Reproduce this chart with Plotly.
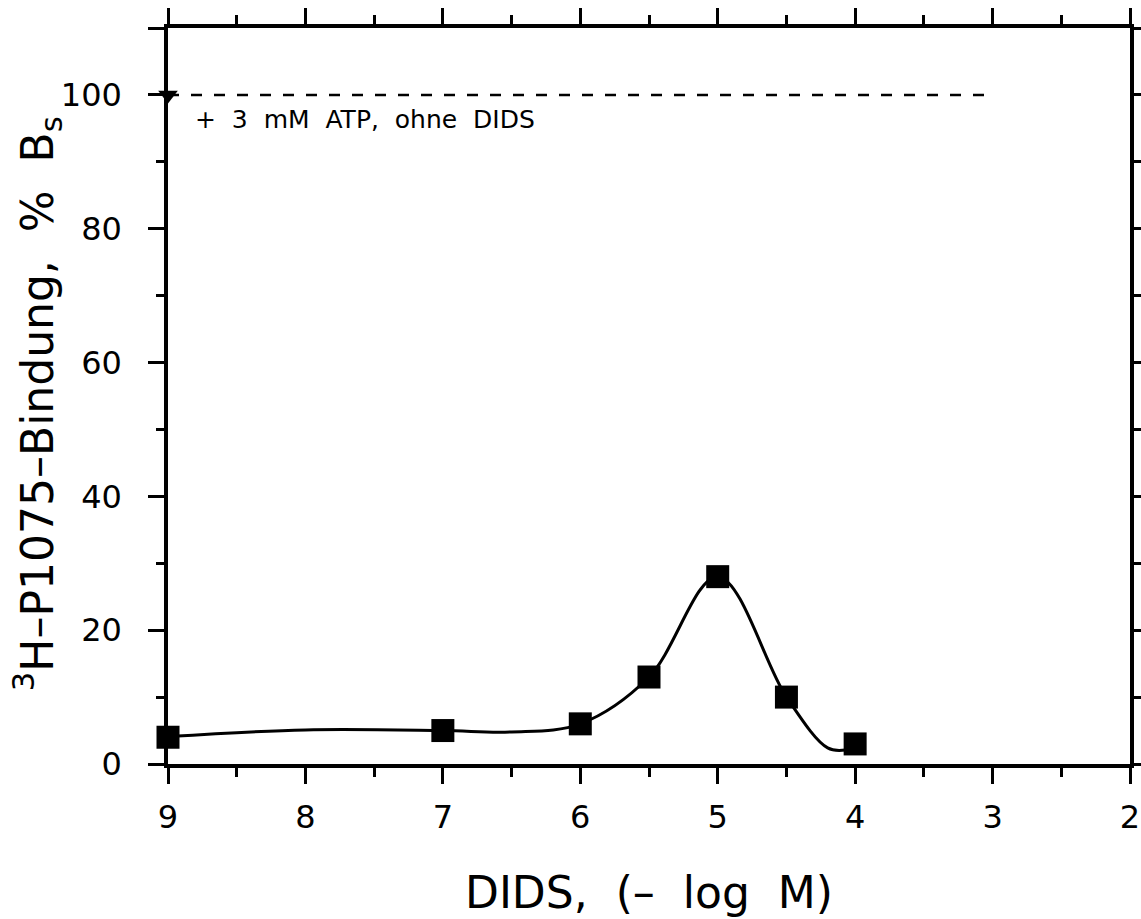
import plotly.graph_objects as go

# Data
dids_x = [9, 7, 6, 5.5, 5, 4.5, 4]
binding_y = [4, 5, 6, 13, 28, 10, 3]

# smooth fitted curve
curve_x = [9, 8, 7, 6.5, 6, 5.5, 5, 4.5, 4.2, 4.07]
curve_y = [4.1, 5.1, 5.0, 4.8, 6.0, 13, 28, 10, 2.4, 2.1]

# control: + 3 mM ATP without DIDS
atp_x = [9]
atp_y = [100]
ref_line_x = [9, 3]
ref_line_y = [100, 100]

x_ticks = [9, 8, 7, 6, 5, 4, 3, 2]
x_ticktext = ["9", "8", "7", "6", "5", "4", "3", "2"]
y_ticks = [0, 20, 40, 60, 80, 100, 110]
y_ticktext = ["0", "20", "40", "60", "80", "100", ""]

FONT = "DejaVu Sans"

fig = go.Figure()
fig.add_trace(go.Scatter(x=curve_x, y=curve_y, mode="lines",
                         line=dict(color="black", width=3, shape="spline"),
                         cliponaxis=False, showlegend=False, hoverinfo="skip"))
fig.add_trace(go.Scatter(x=ref_line_x, y=ref_line_y, mode="lines",
                         line=dict(color="black", width=2.5, dash="11px,12px"),
                         showlegend=False))
fig.add_trace(go.Scatter(x=dids_x, y=binding_y, mode="markers",
                         marker=dict(symbol="square", size=23, color="black"),
                         cliponaxis=False, showlegend=False))
fig.add_trace(go.Scatter(x=atp_x, y=atp_y, mode="markers",
                         marker=dict(symbol="triangle-down", size=17, color="black"),
                         cliponaxis=False, showlegend=False))

axis_common = dict(showline=True, linewidth=3.5, linecolor="black", mirror="allticks",
                   ticks="outside", ticklen=16, tickwidth=3, tickcolor="black",
                   showgrid=False, zeroline=False, automargin=False,
                   tickfont=dict(family=FONT, size=32, color="black"))

fig.update_xaxes(range=[9, 2], tickvals=x_ticks, ticktext=x_ticktext,
                 minor=dict(dtick=0.5, ticklen=9, tickwidth=3, tickcolor="black", ticks="outside"),
                 ticklabelstandoff=6, **axis_common)
fig.update_yaxes(range=[0, 110], tickvals=y_ticks, ticktext=y_ticktext,
                 minor=dict(dtick=10, ticklen=8, tickwidth=3, tickcolor="black", ticks="outside"),
                 ticklabelstandoff=20, **axis_common)

fig.add_annotation(text="+  3  mM  ATP,  ohne  DIDS", x=8.82, y=96.4, xref="x", yref="y",
                   xanchor="left", yanchor="middle", showarrow=False,
                   font=dict(family=FONT, size=25, color="black"))
fig.add_annotation(text="DIDS,  (–  log  M)", x=0.5, y=-0.175, xref="paper", yref="paper",
                   xanchor="center", yanchor="middle", showarrow=False,
                   font=dict(family=FONT, size=44, color="black"))
fig.add_annotation(text="<sup>3</sup>H–P1075–Bindung,  %  B<sub>s</sub>", x=-0.136, y=0.489,
                   xref="paper", yref="paper", xanchor="center", yanchor="middle",
                   textangle=-90, showarrow=False,
                   font=dict(family=FONT, size=44, color="black"))

fig.update_layout(width=1141, height=919, margin=dict(l=168, r=11, t=28, b=155, autoexpand=False),
                  paper_bgcolor="white", plot_bgcolor="white")

fig.write_html("out.html", config={"displayModeBar": False},
               post_script="document.body.style.margin='0';document.body.style.overflow='hidden';")
